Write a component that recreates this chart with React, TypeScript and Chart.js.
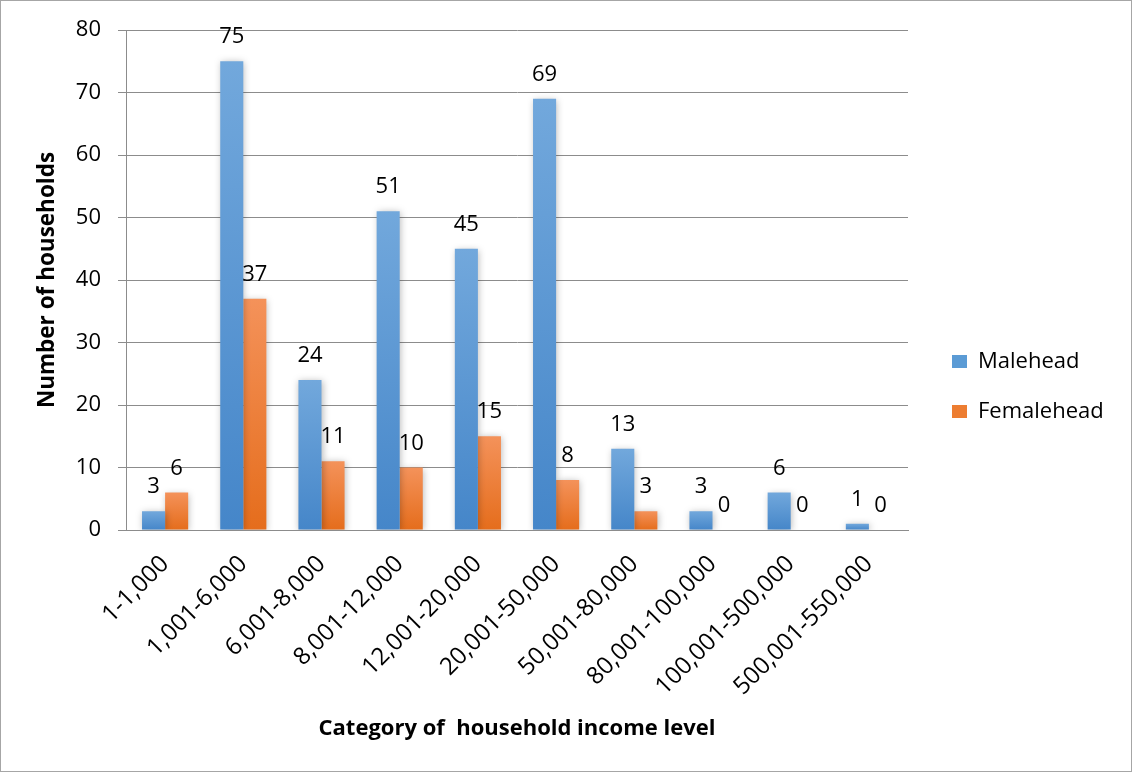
import React, { useEffect, useRef } from "react";
import { Chart, registerables } from "chart.js";

Chart.register(...registerables);

const categories = [
  "1-1,000",
  "1,001-6,000",
  "6,001-8,000",
  "8,001-12,000",
  "12,001-20,000",
  "20,001-50,000",
  "50,001-80,000",
  "80,001-100,000",
  "100,001-500,000",
  "500,001-550,000",
];
const maleHead = [3, 75, 24, 51, 45, 69, 13, 3, 6, 1];
const femaleHead = [6, 37, 11, 10, 15, 8, 3, 0, 0, 0];
const seriesNames = ["Malehead", "Femalehead"];
const yTicks = { min: 0, max: 80, step: 10 };

const FONT = "'Open Sans', 'DejaVu Sans', sans-serif";

function barGradient(ctx: any, top: string, bottom: string) {
  const chart = ctx.chart;
  const y = chart.scales && chart.scales.y;
  if (!y || ctx.type !== "data") return bottom;
  const v = ctx.raw as number;
  const yTop = y.getPixelForValue(v);
  const yBase = y.getPixelForValue(0);
  if (!isFinite(yTop) || !isFinite(yBase) || yBase - yTop < 1) return top;
  const g = chart.ctx.createLinearGradient(0, yTop, 0, yBase);
  g.addColorStop(0, top);
  g.addColorStop(1, bottom);
  return g;
}

const shadowPlugin = {
  id: "barShadow",
  beforeDatasetsDraw(chart: any) {
    const c = chart.ctx;
    c.save();
    c.shadowColor = "rgba(0,0,0,0.28)";
    c.shadowBlur = 7;
    c.shadowOffsetX = 1;
    c.shadowOffsetY = 1;
  },
  afterDatasetsDraw(chart: any) {
    chart.ctx.restore();
  },
};

const valueLabelPlugin = {
  id: "valueLabels",
  afterDatasetsDraw(chart: any) {
    const c = chart.ctx;
    c.save();
    c.font = `22px ${FONT}`;
    c.fillStyle = "#000";
    c.textAlign = "center";
    c.textBaseline = "alphabetic";
    chart.data.datasets.forEach((ds: any, i: number) => {
      const meta = chart.getDatasetMeta(i);
      meta.data.forEach((bar: any, j: number) => {
        c.fillText(String(ds.data[j]), bar.x, bar.y - 18);
      });
    });
    c.restore();
  },
};

const layoutTweakPlugin = {
  id: "layoutTweak",
  afterLayout(chart: any) {
    const lg = chart.legend;
    if (lg) {
      const w = lg.width;
      lg.left = 924;
      lg.right = 924 + w;
    }
  },
  afterDraw(chart: any) {
    const c = chart.ctx;
    c.save();
    c.strokeStyle = "#a6a6a6";
    c.lineWidth = 1;
    c.strokeRect(0.5, 0.5, 1131, 771);
    c.restore();
  },
};

export default function App() {
  const canvasRef = useRef<HTMLCanvasElement | null>(null);

  useEffect(() => {
    if (!canvasRef.current) return;
    const chart = new Chart(canvasRef.current, {
      type: "bar",
      data: {
        labels: categories,
        datasets: [
          {
            label: seriesNames[0],
            data: maleHead,
            backgroundColor: (ctx: any) => barGradient(ctx, "#72a8dc", "#4586c9"),
            categoryPercentage: 0.59,
            barPercentage: 1,
          },
          {
            label: seriesNames[1],
            data: femaleHead,
            backgroundColor: (ctx: any) => barGradient(ctx, "#f4925a", "#e56d1c"),
            categoryPercentage: 0.59,
            barPercentage: 1,
          },
        ],
      },
      options: {
        animation: false,
        responsive: false,
        maintainAspectRatio: false,
        layout: { padding: { left: 0, right: 0, top: 0, bottom: 0 } },
        plugins: {
          tooltip: { enabled: false },
          legend: {
            position: "right",
            labels: {
              boxWidth: 15,
              boxHeight: 13,
              padding: 28,
              color: "#000",
              font: { family: FONT, size: 22 },
              generateLabels: (chart: any) =>
                chart.data.datasets.map((ds: any, i: number) => ({
                  text: ds.label,
                  fillStyle: i === 0 ? "#5b9bd5" : "#ed7d31",
                  strokeStyle: "rgba(0,0,0,0)",
                  lineWidth: 0,
                  hidden: false,
                  datasetIndex: i,
                })),
            },
          },
        },
        scales: {
          x: {
            grid: { display: false },
            border: { display: true, color: "#8c8c8c", width: 1 },
            ticks: {
              color: "#000",
              font: { family: FONT, size: 24 },
              minRotation: 45,
              maxRotation: 45,
              autoSkip: false,
              padding: 12,
            },
            title: {
              display: true,
              text: "Category of  household income level",
              color: "#000",
              font: { family: FONT, size: 22, weight: "bold" },
              padding: { top: 0, bottom: 31 },
            },
            afterFit: (scale: any) => {
              scale.height = 773 - 530;
              scale.paddingRight = 1133 - 908;
              scale.paddingLeft = 0;
            },
          },
          y: {
            min: yTicks.min,
            max: yTicks.max,
            grid: { color: "#8c8c8c", lineWidth: 1, tickLength: 8 },
            border: { display: true, color: "#8c8c8c", width: 1 },
            ticks: {
              stepSize: yTicks.step,
              color: "#000",
              font: { family: FONT, size: 22 },
              padding: 17,
            },
            title: {
              display: true,
              text: "Number of households",
              color: "#000",
              font: { family: FONT, size: 22.5, weight: "bold" },
              padding: { top: 34, bottom: 0 },
            },
            afterFit: (scale: any) => {
              scale.width = 126;
              scale.paddingTop = 30;
            },
          },
        },
      },
      plugins: [shadowPlugin, valueLabelPlugin, layoutTweakPlugin],
    });
    return () => chart.destroy();
  }, []);

  return (
    <div style={{ position: "absolute", left: 0, top: 0, width: 1133, height: 773, background: "#fff" }}>
      <canvas ref={canvasRef} width={1133} height={773} style={{ display: "block" }} />
    </div>
  );
}
